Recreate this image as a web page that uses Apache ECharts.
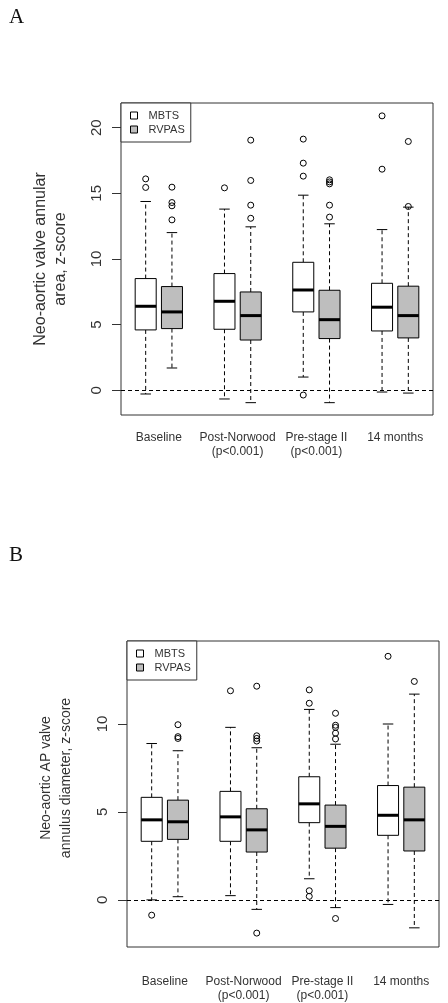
<!DOCTYPE html>
<html>
<head>
<meta charset="utf-8">
<script src="https://cdn.jsdelivr.net/npm/echarts@6/dist/echarts.min.js"></script>
<style>
  html, body { margin: 0; padding: 0; background: #fff; }
  #chart { width: 448px; height: 1003px; }
</style>
</head>
<body>
<div id="chart"></div>
<script>
// ---- data ----
var groupLabels = ['Baseline', 'Post-Norwood\n(p<0.001)', 'Pre-stage II\n(p<0.001)', '14 months'];
var groupCenters = [1.5, 4.5, 7.5, 10.5];
var posMBTS = [1, 4, 7, 10];
var posRVPAS = [2, 5, 8, 11];
var seriesNames = ['MBTS', 'RVPAS'];

// Panel A: Neo-aortic valve annular area, z-score  [min, Q1, median, Q3, max]
var mbtsA = [[-0.28, 4.60, 6.40, 8.51, 14.38], [-0.66, 4.65, 6.78, 8.89, 13.80], [1.01, 5.97, 7.64, 9.75, 14.86], [-0.13, 4.52, 6.33, 8.15, 12.24]];
var rvpasA = [[1.70, 4.70, 5.97, 7.90, 12.01], [-0.94, 3.83, 5.69, 7.49, 12.45], [-0.94, 3.94, 5.38, 7.62, 12.68], [-0.21, 3.99, 5.69, 7.93, 13.95]];
var outMbtsA = [[16.10, 15.45], [15.42], [19.13, 17.30, 16.31, -0.36], [20.90, 16.84]];
var outRvpasA = [[15.47, 14.30, 14.05, 12.98], [19.05, 15.98, 14.10, 13.10], [16.03, 15.87, 15.72, 14.10, 13.19], [18.95, 14.00]];
var yTicksA = [0, 5, 10, 15, 20];

// Panel B: Neo-aortic AP valve annulus diameter, z-score
var mbtsB = [[0.00, 3.33, 4.55, 5.83, 8.89], [0.24, 3.33, 4.72, 6.17, 9.81], [1.20, 4.39, 5.46, 7.00, 10.83], [-0.26, 3.67, 4.81, 6.50, 10.00]];
var rvpasB = [[0.18, 3.44, 4.44, 5.67, 8.48], [-0.54, 2.72, 3.98, 5.18, 8.65], [-0.44, 2.94, 4.18, 5.39, 8.85], [-1.59, 2.78, 4.55, 6.41, 11.70]];
var outMbtsB = [[-0.87], [11.89], [11.94, 11.18, 0.52, 0.20], [13.85]];
var outRvpasB = [[9.96, 9.28, 9.18], [12.15, 9.33, 9.18, 9.03, -1.89], [10.61, 9.93, 9.81, 9.48, 9.15, -1.06], [12.42]];
var yTicksB = [0, 5, 10];

// ---- helpers ----
var FONT = '"Liberation Sans", Arial, sans-serif';
var TXT = '#333';
var GRAY = '#bebebe';

function boxData(stats, pos) {
  return stats.map(function (s, i) { return [pos[i]].concat(s); });
}
function outData(outs, pos) {
  var pts = [];
  outs.forEach(function (arr, i) { arr.forEach(function (v) { pts.push([pos[i], v]); }); });
  return pts;
}
function boxRenderer(fill) {
  return function (params, api) {
    var x = api.value(0);
    var lo = api.coord([x, api.value(1)]);
    var q1 = api.coord([x, api.value(2)]);
    var md = api.coord([x, api.value(3)]);
    var q3 = api.coord([x, api.value(4)]);
    var hi = api.coord([x, api.value(5)]);
    var w = api.size([0.8, 0])[0];
    var cx = q1[0];
    var cap = w / 4;
    var dash = { stroke: '#000', lineWidth: 1, lineDash: [4, 3] };
    var solid = { stroke: '#000', lineWidth: 1 };
    return {
      type: 'group',
      children: [
        { type: 'line', shape: { x1: cx, y1: q3[1], x2: cx, y2: hi[1] }, style: dash },
        { type: 'line', shape: { x1: cx, y1: q1[1], x2: cx, y2: lo[1] }, style: dash },
        { type: 'line', shape: { x1: cx - cap, y1: hi[1], x2: cx + cap, y2: hi[1] }, style: solid },
        { type: 'line', shape: { x1: cx - cap, y1: lo[1], x2: cx + cap, y2: lo[1] }, style: solid },
        { type: 'rect', shape: { x: cx - w / 2, y: q3[1], width: w, height: q1[1] - q3[1] }, style: { fill: fill, stroke: '#000', lineWidth: 1 } },
        { type: 'line', shape: { x1: cx - w / 2, y1: md[1], x2: cx + w / 2, y2: md[1] }, style: { stroke: '#000', lineWidth: 3 } }
      ]
    };
  };
}
function boxSeries(name, stats, pos, fill, idx) {
  return {
    type: 'custom', name: name, xAxisIndex: idx, yAxisIndex: idx,
    renderItem: boxRenderer(fill),
    itemStyle: { color: fill, borderColor: '#000' },
    encode: { x: 0, y: [1, 2, 3, 4, 5] },
    data: boxData(stats, pos), silent: true, z: 3
  };
}
function outlierSeries(name, outs, pos, idx, withZero) {
  var s = {
    type: 'scatter', name: name, xAxisIndex: idx, yAxisIndex: idx,
    symbol: 'circle', symbolSize: 6,
    itemStyle: { color: 'rgba(0,0,0,0)', borderColor: '#000', borderWidth: 1, opacity: 1 },
    data: outData(outs, pos), silent: true, z: 4
  };
  if (withZero) {
    s.markLine = {
      silent: true, symbol: 'none', label: { show: false },
      lineStyle: { color: '#000', width: 1, type: [4, 3] },
      data: [{ yAxis: 0 }], animation: false
    };
  }
  return s;
}
function xAxisFor(idx, margin) {
  return {
    type: 'value', gridIndex: idx, min: 0.06, max: 11.94,
    splitLine: { show: false }, axisLine: { show: false }, axisTick: { show: false },
    axisLabel: {
      customValues: groupCenters, margin: margin, fontSize: 12, lineHeight: 14,
      color: TXT, fontFamily: FONT,
      formatter: function (v) {
        for (var i = 0; i < groupCenters.length; i++) if (Math.abs(groupCenters[i] - v) < 1e-6) return groupLabels[i];
        return '';
      }
    }
  };
}
function yAxisFor(idx, min, max, ticks, name, gap, nameSize, namePad) {
  return {
    type: 'value', gridIndex: idx, min: min, max: max,
    splitLine: { show: false }, axisLine: { show: false },
    axisTick: { show: true, customValues: ticks, length: 9, lineStyle: { color: TXT, width: 1 } },
    axisLabel: { customValues: ticks, rotate: 90, margin: 17, fontSize: 15, color: TXT, fontFamily: FONT },
    name: name, nameLocation: 'middle', nameRotate: 90, nameGap: gap,
    nameTextStyle: { fontSize: nameSize, lineHeight: 20, color: TXT, fontFamily: FONT, padding: namePad }
  };
}
function legendFor(left, top) {
  return {
    orient: 'vertical', left: left, top: top, itemWidth: 7, itemHeight: 7, itemGap: 3,
    padding: [7, 6, 7, 9], borderColor: TXT, borderWidth: 1, backgroundColor: '#fff',
    selectedMode: false, z: 10,
    textStyle: { fontSize: 11, color: TXT, fontFamily: FONT, padding: [0, 0, 0, 6] },
    data: [
      { name: seriesNames[0], icon: 'rect', itemStyle: { color: '#fff', borderColor: '#000', borderWidth: 1 } },
      { name: seriesNames[1], icon: 'rect', itemStyle: { color: GRAY, borderColor: '#000', borderWidth: 1 } }
    ]
  };
}

var chart = echarts.init(document.getElementById('chart'), null, { renderer: 'canvas' });
chart.setOption({
  animation: false,
  backgroundColor: '#fff',
  grid: [
    { left: 121, top: 103, width: 312, height: 312, show: true, borderColor: TXT, borderWidth: 1, backgroundColor: 'rgba(0,0,0,0)' },
    { left: 127, top: 641, width: 312, height: 312, show: true, borderColor: TXT, borderWidth: 1, backgroundColor: 'rgba(0,0,0,0)' }
  ],
  xAxis: [xAxisFor(0, 16), xAxisFor(1, 28)],
  yAxis: [
    yAxisFor(0, -1.88, 21.88, yTicksA, 'Neo-aortic valve annular\narea, z-score', 50, 16, 0),
    yAxisFor(1, -2.68, 14.72, yTicksB, 'Neo-aortic AP valve\nannulus diameter, z-score', 51, 14, [0, 0, 0, 32])
  ],
  legend: [legendFor(121, 103), legendFor(127, 641)],
  graphic: [
    { type: 'text', left: 9, top: 7, style: { text: 'A', fontSize: 21, fontFamily: '"Liberation Serif", "Times New Roman", serif', fill: '#111' } },
    { type: 'text', left: 9, top: 545, style: { text: 'B', fontSize: 21, fontFamily: '"Liberation Serif", "Times New Roman", serif', fill: '#111' } }
  ],
  series: [
    boxSeries(seriesNames[0], mbtsA, posMBTS, '#fff', 0),
    boxSeries(seriesNames[1], rvpasA, posRVPAS, GRAY, 0),
    outlierSeries('outliers MBTS A', outMbtsA, posMBTS, 0, true),
    outlierSeries('outliers RVPAS A', outRvpasA, posRVPAS, 0, false),
    boxSeries(seriesNames[0], mbtsB, posMBTS, '#fff', 1),
    boxSeries(seriesNames[1], rvpasB, posRVPAS, GRAY, 1),
    outlierSeries('outliers MBTS B', outMbtsB, posMBTS, 1, true),
    outlierSeries('outliers RVPAS B', outRvpasB, posRVPAS, 1, false)
  ]
});
</script>
</body>
</html>
